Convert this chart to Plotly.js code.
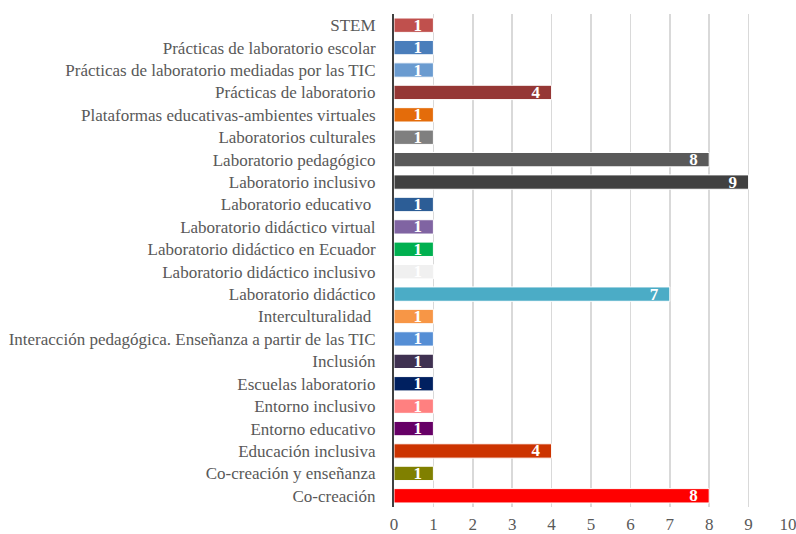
<!DOCTYPE html>
<html><head><meta charset="utf-8">
<script src="https://cdn.plot.ly/plotly-3.0.1.min.js"></script>
<style>html,body{margin:0;padding:0;background:#fff}#c{width:796px;height:534px}</style>
</head><body><div id="c"></div>
<script>
const categories = [
  "STEM",
  "Prácticas de laboratorio escolar",
  "Prácticas de laboratorio mediadas por las TIC",
  "Prácticas de laboratorio",
  "Plataformas educativas-ambientes virtuales",
  "Laboratorios culturales",
  "Laboratorio pedagógico",
  "Laboratorio inclusivo",
  "Laboratorio educativo ",
  "Laboratorio didáctico virtual",
  "Laboratorio didáctico en Ecuador",
  "Laboratorio didáctico inclusivo",
  "Laboratorio didáctico",
  "Interculturalidad ",
  "Interacción pedagógica. Enseñanza a partir de las TIC",
  "Inclusión",
  "Escuelas laboratorio",
  "Entorno inclusivo",
  "Entorno educativo",
  "Educación inclusiva",
  "Co-creación y enseñanza",
  "Co-creación"
];
const values = [1,1,1,4,1,1,8,9,1,1,1,1,7,1,1,1,1,1,1,4,1,8];
const colors = [
  "#c0504d","#4a7ebb","#6a9bd0","#953735","#e46c0a","#7f7f7f","#595959","#404040",
  "#2c5d96","#8064a2","#00b050","#f0f0f0","#4bacc6","#f79646","#558ed5","#3f3151",
  "#002060","#ff8080","#660066","#cc3300","#808000","#ff0000"
];
const xTicks = [0,1,2,3,4,5,6,7,8,9,10];

const trace = {
  type: "bar",
  orientation: "h",
  y: categories,
  x: values,
  text: values.map(v => String(v) + "\u00a0\u00a0"),
  textposition: "inside",
  insidetextanchor: "end",
  textangle: 0,
  textfont: {family: "Liberation Serif", size: 17, color: "#ffffff", weight: "bold"},
  marker: {color: colors, line: {color: "#ffffff", width: 1}},
  hoverinfo: "none"
};

const layout = {
  width: 796, height: 534,
  margin: {l: 394, r: 8, t: 14, b: 27},
  paper_bgcolor: "#ffffff", plot_bgcolor: "#ffffff",
  showlegend: false,
  bargap: 0.36,
  font: {family: "Liberation Serif", color: "#595959", size: 17},
  uniformtext: {mode: "show", minsize: 17},
  xaxis: {
    range: [0, 10], tickvals: xTicks, ticktext: xTicks.map(String),
    showgrid: true, gridcolor: "#d9d9d9", gridwidth: 1.5,
    zeroline: false, showline: false,
    ticks: "", tickfont: {size: 17, color: "#595959"}, ticklabelstandoff: 5,
    ticklabeloverflow: "allow"
  },
  yaxis: {
    type: "category", autorange: "reversed",
    showline: true, linecolor: "#404040", linewidth: 2,
    showgrid: false, zeroline: false,
    ticks: "outside", ticklen: 13, tickcolor: "rgba(0,0,0,0)",
    tickfont: {size: 17, color: "#595959"}
  }
};

Plotly.newPlot("c", [trace], layout, {staticPlot: true, displayModeBar: false});
</script>
</body></html>
